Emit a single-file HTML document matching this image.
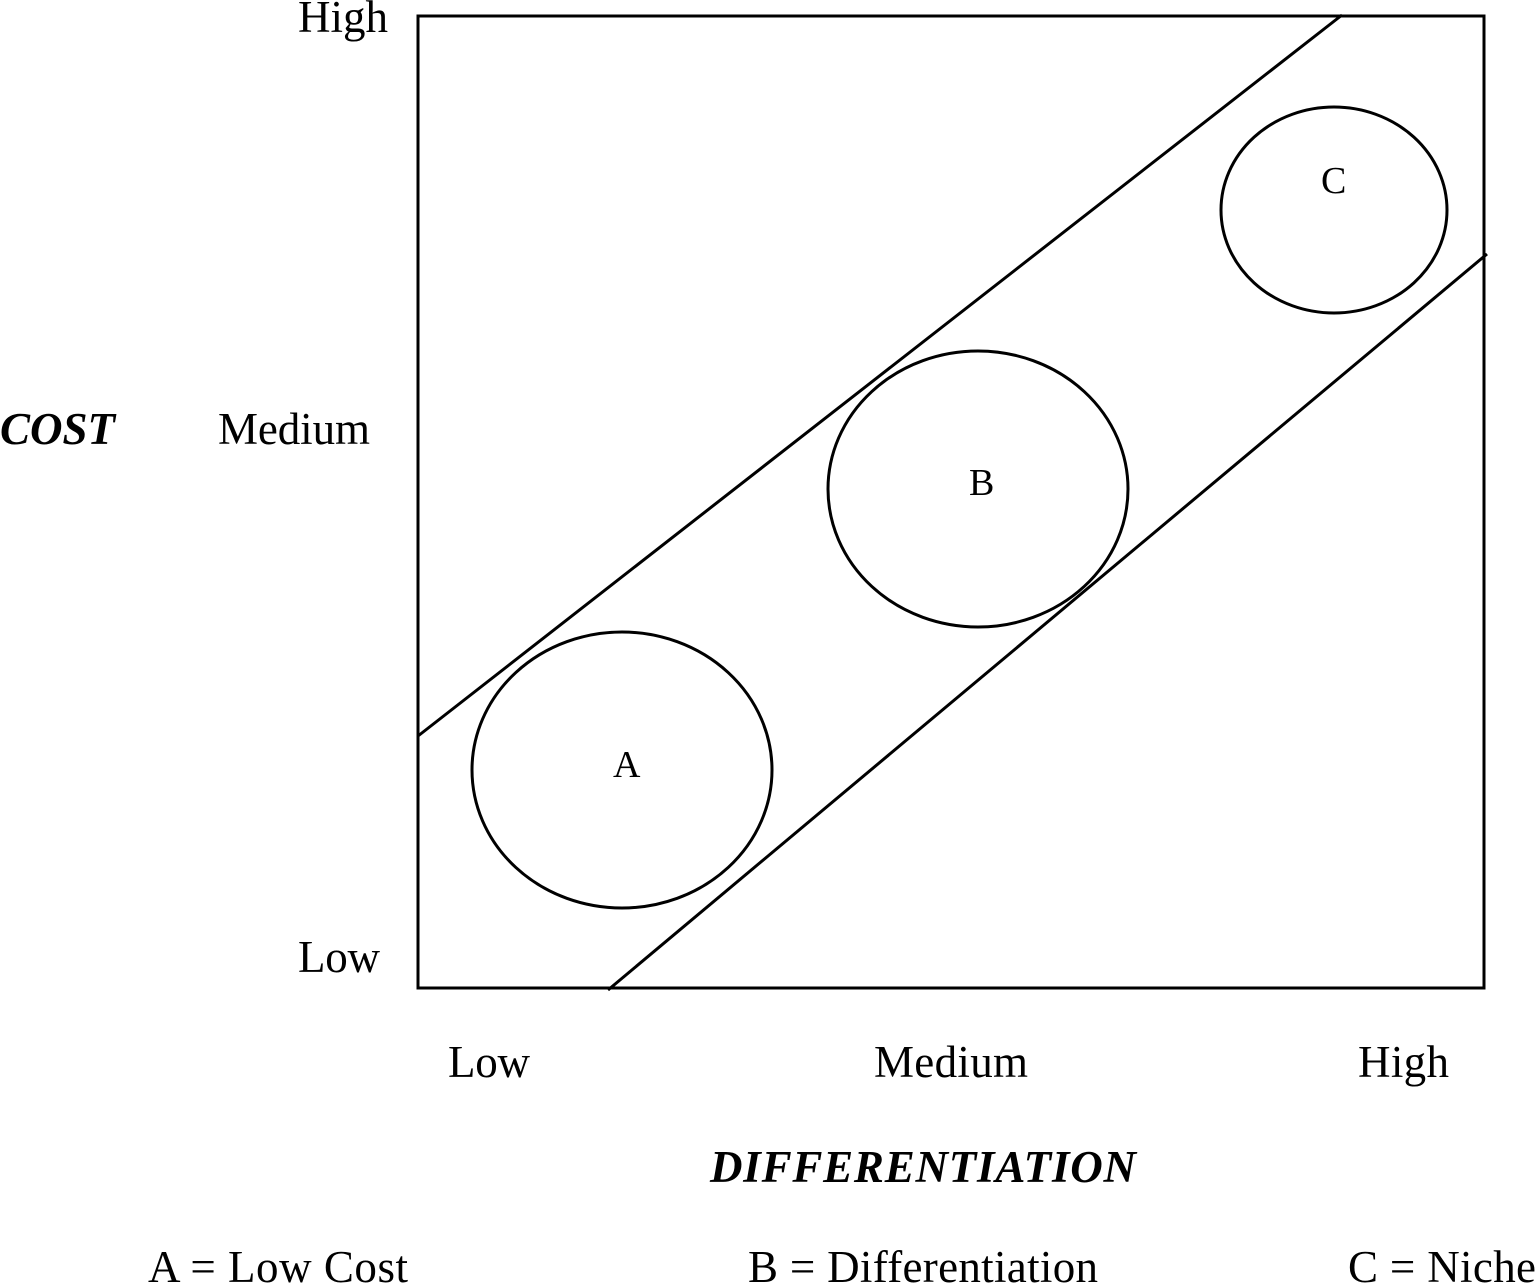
<!DOCTYPE html>
<html><head><meta charset="utf-8"><style>html,body{margin:0;padding:0;background:#fff}svg{display:block}</style></head>
<body>
<svg width="1536" height="1284" viewBox="0 0 1536 1284" xmlns="http://www.w3.org/2000/svg" font-family="'Liberation Serif', serif" fill="#000">
<rect x="418" y="16" width="1066" height="972" fill="none" stroke="#000" stroke-width="3"/>
<line x1="418" y1="736" x2="1342" y2="15" stroke="#000" stroke-width="3"/>
<line x1="608" y1="990" x2="1487" y2="254" stroke="#000" stroke-width="3"/>
<ellipse cx="622" cy="770" rx="150" ry="138" fill="none" stroke="#000" stroke-width="3"/>
<ellipse cx="978" cy="489" rx="150" ry="138" fill="none" stroke="#000" stroke-width="3"/>
<ellipse cx="1334" cy="210" rx="113" ry="103" fill="none" stroke="#000" stroke-width="3"/>
<g font-size="38">
<text x="613" y="777">A</text>
<text x="969" y="495">B</text>
<text x="1321" y="193">C</text>
</g>
<g font-size="45">
<text x="298" y="32" textLength="90">High</text>
<text x="218" y="444" textLength="152">Medium</text>
<text x="298" y="972" textLength="82">Low</text>
<text x="448" y="1077" textLength="82">Low</text>
<text x="874" y="1077" textLength="154">Medium</text>
<text x="1358" y="1077" textLength="91">High</text>
<text x="148" y="1282" textLength="260">A = Low Cost</text>
<text x="748" y="1282" textLength="350">B = Differentiation</text>
<text x="1348" y="1282" textLength="188">C = Niche</text>
</g>
<g font-size="45" font-weight="bold" font-style="italic">
<text x="0" y="444" textLength="115">COST</text>
<text x="710" y="1182" textLength="426">DIFFERENTIATION</text>
</g>
</svg>
</body></html>
